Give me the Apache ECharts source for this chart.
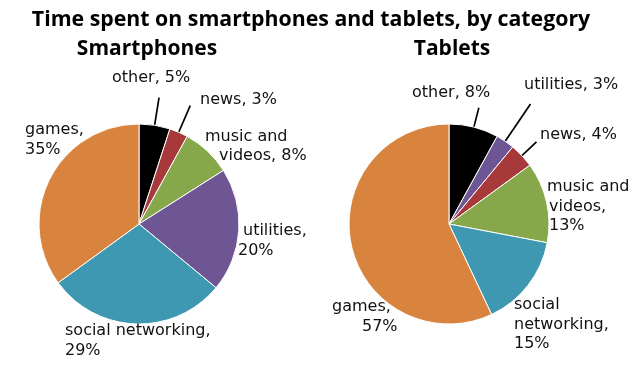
<!DOCTYPE html>
<html>
<head>
<meta charset="utf-8">
<script src="https://cdn.jsdelivr.net/npm/echarts@6/dist/echarts.min.js"></script>
<style>html,body{margin:0;padding:0;background:#fff}#c{width:640px;height:366px}</style>
</head>
<body>
<div id="c"></div>
<script>
// ---- data ----
const chartTitle = 'Time spent on smartphones and tablets, by category';
const phoneTitle = 'Smartphones';
const tabletTitle = 'Tablets';
const phoneCategories = ['other', 'news', 'music and videos', 'utilities', 'social networking', 'games'];
const phoneValues = [5, 3, 8, 20, 29, 35];
const tabletCategories = ['other', 'utilities', 'news', 'music and videos', 'social networking', 'games'];
const tabletValues = [8, 3, 4, 13, 15, 57];

// ---- styles / layout ----
const TITLE_FONT = 'Open Sans';
const LABEL_FONT = 'DejaVu Sans';
const colors = {
  'other': '#000000',
  'news': '#a8393a',
  'music and videos': '#87a84a',
  'utilities': '#6e5593',
  'social networking': '#3e98b2',
  'games': '#d8843f'
};
// label placement: [left, top], line breaks after word counts, per-line indents
const phoneLabelLayout = {
  'other': {pos: [112, 68.5], breaks: [], indent: [0]},
  'news': {pos: [200, 90.5], breaks: [], indent: [0]},
  'music and videos': {pos: [205, 127], breaks: [2], indent: [0, 14]},
  'utilities': {pos: [238, 221.5], breaks: [1], indent: [5, 0]},
  'social networking': {pos: [65, 321.5], breaks: [2], indent: [0, 0]},
  'games': {pos: [25, 120.5], breaks: [1], indent: [0, 0]}
};
const tabletLabelLayout = {
  'other': {pos: [412, 83.5], breaks: [], indent: [0]},
  'utilities': {pos: [524, 75.5], breaks: [], indent: [0]},
  'news': {pos: [540, 125.5], breaks: [], indent: [0]},
  'music and videos': {pos: [547, 177.5], breaks: [2, 3], indent: [0, 2, 2]},
  'social networking': {pos: [514, 295.5], breaks: [1, 2], indent: [0, 0, 0]},
  'games': {pos: [332, 297.5], breaks: [1], indent: [0, 30]}
};
// leader-line lengths (0 = none)
const phoneLeader = {'other': 28, 'news': 29};
const tabletLeader = {'other': 20, 'utilities': 45, 'news': 20};

const PHONE_CENTER = [139, 224];
const TABLET_CENTER = [449, 224];
const RADIUS = 100;
const LINE_H = 19.5;

function splitLines(text, breaks) {
  const words = text.split(' ');
  const lines = [];
  let start = 0;
  breaks.concat([words.length]).forEach(b => {
    lines.push(words.slice(start, b).join(' '));
    start = b;
  });
  return lines;
}

function richFor(indent) {
  const r = {};
  indent.forEach((ind, i) => {
    r['l' + i] = {fontFamily: LABEL_FONT, fontSize: 16, color: '#111111', lineHeight: LINE_H, padding: [0, 0, 0, ind]};
  });
  return r;
}

function buildData(cats, vals, layout, leader, forLabels) {
  return cats.map((c, i) => {
    const d = {name: c, value: vals[i]};
    if (forLabels) {
      const lay = layout[c];
      d.itemStyle = {color: 'rgba(0,0,0,0)', borderWidth: 0};
      d.label = {
        show: true,
        rich: richFor(lay.indent),
        formatter: (p) => splitLines(p.name + ', ' + p.value + '%', lay.breaks)
          .map((t, k) => '{l' + k + '|' + t + '}').join('\n')
      };
      d.labelLine = {show: false};
    } else {
      d.itemStyle = {color: colors[c], borderColor: '#ffffff', borderWidth: 1};
      const len = leader[c] || 0;
      if (len > 0) {
        d.label = {show: true, formatter: ' ', fontSize: 1, color: 'rgba(0,0,0,0)'};
        d.labelLine = {show: true, length: len, length2: 0, lineStyle: {color: '#000', width: 1.7}};
      } else {
        d.label = {show: false};
        d.labelLine = {show: false};
      }
    }
    return d;
  });
}

function slicesSeries(center, cats, vals, leader) {
  return {
    type: 'pie', center: center, radius: RADIUS, startAngle: 90, clockwise: true,
    avoidLabelOverlap: false, animation: false, silent: true,
    label: {position: 'outside'},
    emphasis: {disabled: true},
    data: buildData(cats, vals, {}, leader, false)
  };
}

function labelSeries(center, cats, vals, layout) {
  return {
    type: 'pie', center: center, radius: RADIUS, startAngle: 90, clockwise: true,
    avoidLabelOverlap: false, animation: false, silent: true, z: 5,
    label: {position: 'outside'},
    emphasis: {disabled: true},
    labelLayout: (p) => {
      const lay = layout[cats[p.dataIndex]];
      return {x: lay.pos[0], y: lay.pos[1], align: 'left', verticalAlign: 'top'};
    },
    data: buildData(cats, vals, layout, {}, true)
  };
}

const chart = echarts.init(document.getElementById('c'), null, {renderer: 'canvas'});
chart.setOption({
  backgroundColor: '#ffffff',
  title: [
    {text: chartTitle, left: 306, top: 4, textAlign: 'center',
     textStyle: {fontFamily: TITLE_FONT, fontSize: 21.3, fontWeight: 'bold', color: '#000'}},
    {text: phoneTitle, left: 142, top: 34, textAlign: 'center',
     textStyle: {fontFamily: TITLE_FONT, fontSize: 21, fontWeight: 'bold', color: '#000'}},
    {text: tabletTitle, left: 447, top: 34, textAlign: 'center',
     textStyle: {fontFamily: TITLE_FONT, fontSize: 21, fontWeight: 'bold', color: '#000'}}
  ],
  series: [
    slicesSeries(PHONE_CENTER, phoneCategories, phoneValues, phoneLeader),
    labelSeries(PHONE_CENTER, phoneCategories, phoneValues, phoneLabelLayout),
    slicesSeries(TABLET_CENTER, tabletCategories, tabletValues, tabletLeader),
    labelSeries(TABLET_CENTER, tabletCategories, tabletValues, tabletLabelLayout)
  ]
});
</script>
</body>
</html>
